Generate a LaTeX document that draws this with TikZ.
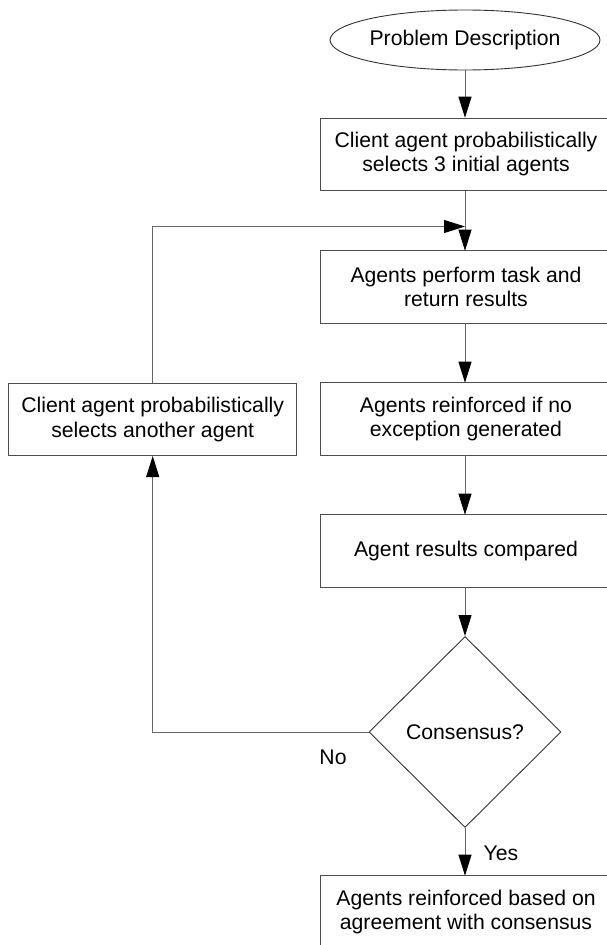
\documentclass[tikz,border=0pt]{standalone}
\usepackage{fontspec}
\setmainfont{Liberation Sans}
\usetikzlibrary{shapes.geometric,arrows.meta}
\begin{document}
\begin{tikzpicture}[x=1pt,y=-1pt,
  font=\fontsize{21.2}{24.5}\selectfont,
  every node/.style={align=center,inner sep=0pt},
  procbox/.style={draw=black!70,line width=0.9pt,rectangle,minimum width=288pt,minimum height=72.5pt},
  widebox/.style={procbox,minimum width=291pt},
  startnode/.style={draw=black!80,line width=0.9pt,ellipse,minimum width=253pt,minimum height=60pt},
  decision/.style={draw=black!80,line width=0.9pt,diamond,minimum width=192pt,minimum height=191pt},
  flow/.style={draw=black!60,line width=0.9pt,-{Triangle[length=21pt,width=13pt,fill=black,color=black]}},
  lbl/.style={font=\fontsize{21.2}{24.5}\selectfont}]
\useasboundingbox (0,0) rectangle (606,945);
\node[startnode] (pd) at (465,40) {Problem Description};
\node[widebox] (b1) at (466,154.2) {Client agent probabilistically\\selects 3 initial agents};
\node[widebox] (b2) at (466,287) {Agents perform task and\\return results};
\node[widebox] (b3) at (466,419) {Agents reinforced if no\\exception generated};
\node[procbox] (lb) at (152.7,419.3) {Client agent probabilistically\\selects another agent};
\node[widebox] (b4) at (466,551) {Agent results compared};
\node[decision] (d) at (465,732) {Consensus?};
\node[widebox] (b5) at (466,912) {Agents reinforced based on\\agreement with consensus};
\coordinate (join) at (465,226.5);
\coordinate (t1) at (465,117.7);
\coordinate (f1) at (465,190.7);
\coordinate (t2) at (465,250.7);
\coordinate (f2) at (465,323.3);
\coordinate (t3) at (465,382.7);
\coordinate (f3) at (465,455.3);
\coordinate (t4) at (465,514.7);
\coordinate (f4) at (465,587.3);
\coordinate (t5) at (465,875.7);
\node[lbl] (no) at (333,757) {No};
\node[lbl] (yes) at (501,853) {Yes};
\draw[flow] (pd) -- (t1);
\draw[flow] (f1) -- (t2);
\draw[flow] (f2) -- (t3);
\draw[flow] (f3) -- (t4);
\draw[flow] (f4) -- (d.north);
\draw[flow] (d.south) -- (t5);
\draw[flow] (d.west) -| (lb.south);
\draw[flow] (lb.north) |- (join);
\end{tikzpicture}
\end{document}
